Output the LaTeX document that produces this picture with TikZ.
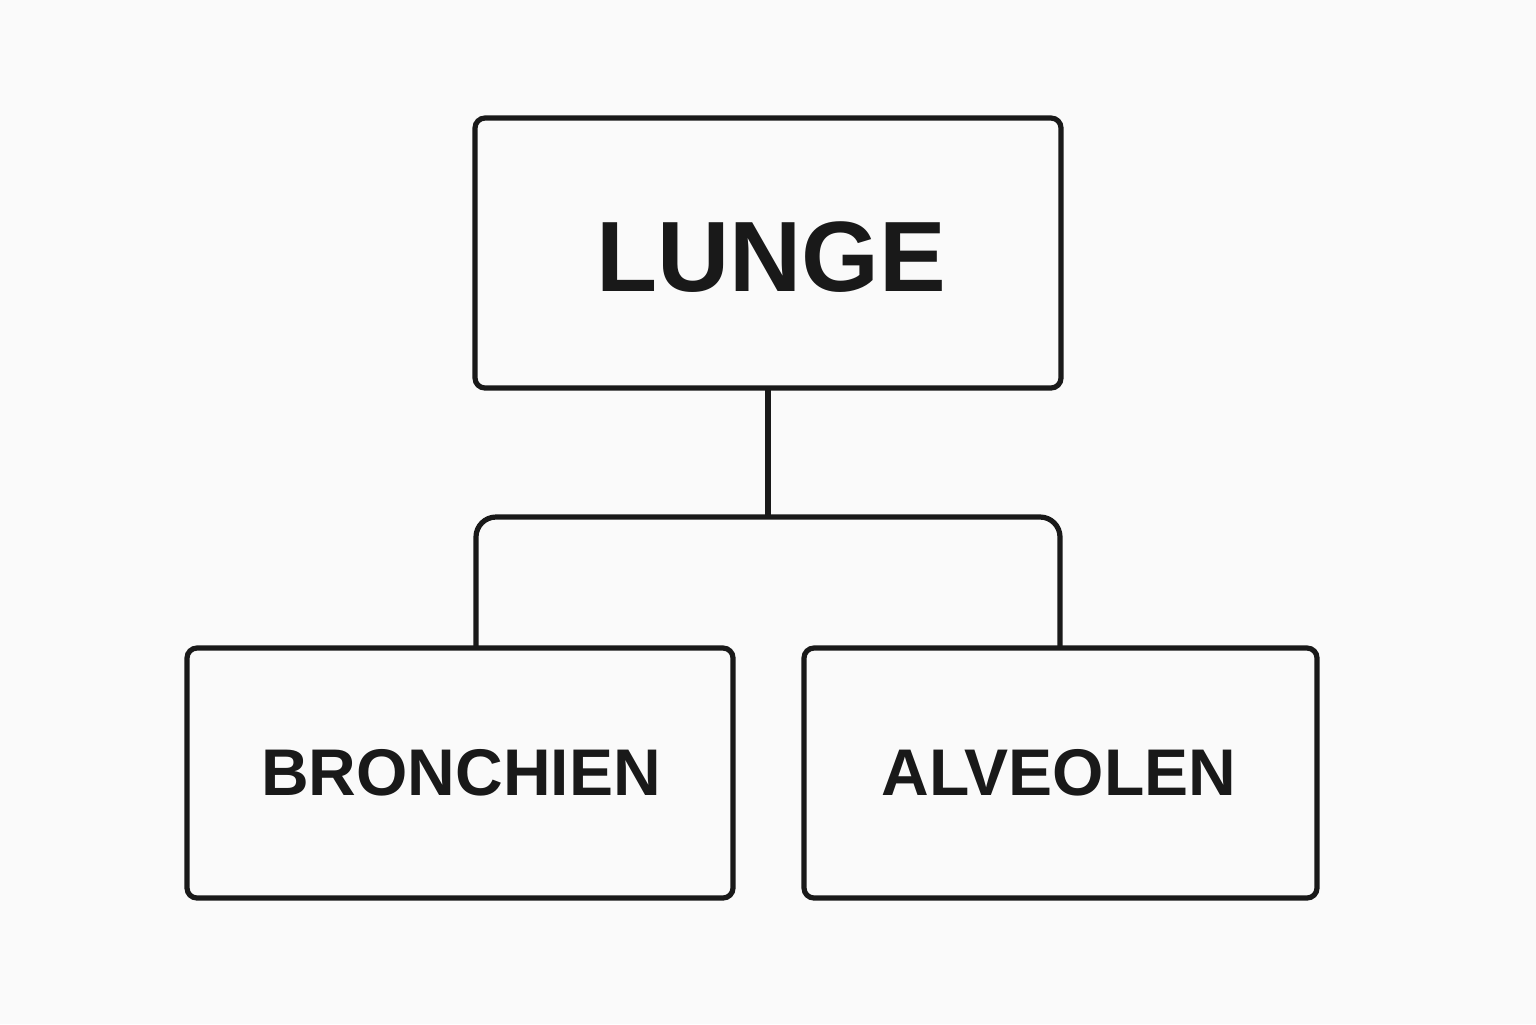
\documentclass[tikz,border=0pt]{standalone}
\usepackage{fontspec}
\setmainfont{Liberation Sans}
\begin{document}
\begin{tikzpicture}[x=0.5pt,y=-0.5pt,
  box/.style={draw=black!90,line width=2.6pt,rounded corners=5pt},
  conn/.style={draw=black!90,line width=2.6pt},
  lbl/.style={font=\bfseries,text=black!90}]
\fill[white!98!black] (0,0) rectangle (1536,1024);
\useasboundingbox (0,0) rectangle (1536,1024);
\draw[box] (475,118) rectangle (1061,388);
\draw[box] (187,648) rectangle (733,898);
\draw[box] (804,648) rectangle (1317,898);
\node[lbl,font=\fontsize{50}{60}\bfseries\selectfont] (lunge) at (771,257) {LUNGE};
\node[lbl,font=\fontsize{33}{40}\bfseries\selectfont] (bron) at (461,773) {BRONCHIEN};
\node[lbl,font=\fontsize{33}{40}\bfseries\selectfont] (alv) at (1059,773) {ALVEOLEN};
\coordinate (top) at (768,388);
\coordinate (mid) at (768,517);
\coordinate (l) at (476,648);
\coordinate (r) at (1060,648);
\draw[conn] (top) -- (mid);
\draw[conn,rounded corners=10pt] (l) -- (476,517) -- (1060,517) -- (r);
\end{tikzpicture}
\end{document}
